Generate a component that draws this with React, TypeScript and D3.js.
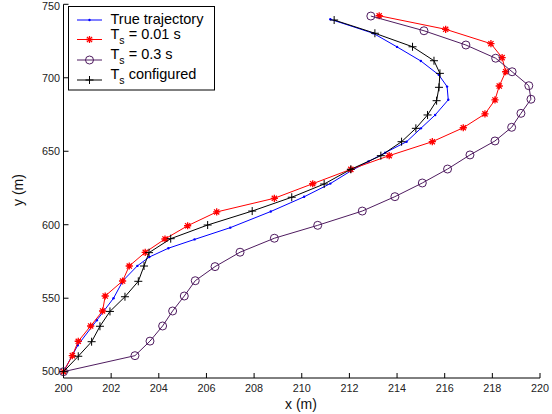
import React from 'react';
import * as d3 from 'd3';

type Pt = [number, number];

// true trajectory (blue, dots)
const trueTraj: Pt[] = [
  [200, 500], [200.6, 518], [201.4, 535], [202.1, 550], [202.5, 562], [203.1, 572],
  [203.6, 578], [204.4, 584], [205.5, 590], [207.0, 598], [208.7, 609], [210.1, 619],
  [211.2, 628], [212.1, 637], [212.8, 643], [213.5, 649], [214.4, 656.5], [215.0, 665.6],
  [215.6, 674.7], [216.15, 685], [216.1, 694], [215.75, 702], [215.0, 711.4],
  [214.0, 721], [213.0, 730.3], [211.2, 739.8],
];

// Ts = 0.01 s (red stars)
const ts001: Pt[] = [
  [200, 500], [200.37, 510.9], [200.62, 520.7], [201.14, 531.1], [201.64, 541.3],
  [201.75, 551.5], [202.48, 561.7], [202.76, 571.9], [203.43, 581.2], [204.26, 590.3],
  [205.21, 599.3], [206.43, 608.7], [208.85, 618], [210.46, 627.9], [212.06, 637.7],
  [213.67, 647], [215.48, 656.5], [216.78, 666], [217.69, 675.4], [218.11, 684.9],
  [218.29, 694.4], [218.56, 704.1], [218.41, 713.7], [217.94, 723.2], [216.04, 733],
  [213.25, 742.2],
];

// Ts = 0.3 s (purple circles)
const ts03: Pt[] = [
  [200, 500], [203.0, 510.9], [203.63, 520.8], [204.16, 531.1], [204.58, 541.3],
  [205.07, 551.5], [205.53, 561.9], [206.36, 571.5], [207.41, 581.3], [208.85, 590.8],
  [210.67, 599.6], [212.54, 609.3], [213.91, 619.1], [215.06, 628.4], [216.12, 637.9],
  [217.06, 647.5], [218.11, 657], [218.81, 666.3], [219.2, 675.8], [219.62, 685.4],
  [219.53, 694.6], [218.83, 704.1], [218.14, 713.3], [216.89, 722.3], [215.13, 732],
  [212.9, 742],
];

// Ts configured (black plus)
const tsConf: Pt[] = [
  [200, 500], [200.62, 510.5], [201.18, 520.4], [201.53, 530.9], [201.95, 541],
  [202.58, 551], [203.14, 561.5], [203.38, 571.9], [203.59, 581], [204.5, 590.5],
  [206.05, 599.8], [207.92, 609.3], [209.58, 618.7], [210.94, 627.7], [212.06, 637.7],
  [213.32, 647], [214.19, 656.5], [214.79, 665.6], [215.28, 674.7], [215.66, 684.4],
  [215.76, 693.5], [215.8, 703], [215.55, 711.6], [214.65, 721.1], [213.07, 730.3],
  [211.36, 739.3],
];

const xTicks = [200, 202, 204, 206, 208, 210, 212, 214, 216, 218, 220];
const yTicks = [500, 550, 600, 650, 700, 750];

const BLUE = '#0000ff';
const RED = '#ff0000';
const PURPLE = '#4f1c60';
const FONT = 'Liberation Sans, Arial, Helvetica, sans-serif';

const x = d3.scaleLinear().domain([200, 220]).range([63.5, 540]);
const y = d3.scaleLinear().domain([750, 495.7]).range([4.3, 378]);

const line = d3.line<Pt>().x(d => x(d[0])).y(d => y(d[1]));

const starPath = (r: number) => {
  const a = r * 0.72;
  return `M${-r},0L${r},0M0,${-r}L0,${r}M${-a},${-a}L${a},${a}M${-a},${a}L${a},${-a}`;
};
const plusPath = (r: number) => `M${-r},0L${r},0M0,${-r}L0,${r}`;

const Marker = ({ kind, color }: { kind: string; color: string }) => {
  if (kind === 'dot') return <circle r={1.2} fill={color} />;
  if (kind === 'circle') return <circle r={4} fill="none" stroke={color} strokeWidth={1} />;
  if (kind === 'star') return <path d={starPath(3.6)} stroke={color} strokeWidth={1.3} fill="none" />;
  return <path d={plusPath(4)} stroke={color} strokeWidth={1} fill="none" />;
};

const series = [
  { data: trueTraj, color: BLUE, kind: 'dot' },
  { data: ts001, color: RED, kind: 'star' },
  { data: ts03, color: PURPLE, kind: 'circle' },
  { data: tsConf, color: '#000000', kind: 'plus' },
];

export default function App() {
  const legendRows = [
    { color: BLUE, kind: 'dot', label: null, text: 'True trajectory', ly: 20, ty: 24 },
    { color: RED, kind: 'star', label: ' = 0.01 s', ly: 39.5, ty: 38.5 },
    { color: PURPLE, kind: 'circle', label: ' = 0.3 s', ly: 60, ty: 59 },
    { color: '#000000', kind: 'plus', label: ' configured', ly: 80, ty: 78.5 },
  ];
  return (
    <svg width={552} height={414} style={{ position: 'absolute', left: 0, top: 0, background: '#fff' }}
      fontFamily={FONT}>
      <rect width={552} height={414} fill="#fff" />
      {/* axes */}
      <line x1={63.5} x2={63.5} y1={4.3} y2={378} stroke="#000" />
      <line x1={63.5} x2={540} y1={378} y2={378} stroke="#000" />
      {xTicks.map(t => (
        <g key={'x' + t}>
          <line x1={x(t)} x2={x(t)} y1={378} y2={373} stroke="#000" />
          <text x={x(t)} y={392} textAnchor="middle" fontSize={10.8} fill="#222">{t}</text>
        </g>
      ))}
      {yTicks.map(t => (
        <g key={'y' + t}>
          <line x1={63.5} x2={68.5} y1={y(t)} y2={y(t)} stroke="#000" />
          <text x={60} y={Math.max(y(t) + 3.8, 9.5)} textAnchor="end" fontSize={10.8} fill="#222">{t}</text>
        </g>
      ))}
      <text x={301} y={409} textAnchor="middle" fontSize={14} fill="#111">x (m)</text>
      <text transform="translate(23,190) rotate(-90)" textAnchor="middle" fontSize={14} fill="#111">y (m)</text>

      {/* series */}
      {series.map((s, i) => (
        <g key={i}>
          <path d={line(s.data) ?? ''} fill="none" stroke={s.color} strokeWidth={1} />
          {s.data.map((d, j) => (
            <g key={j} transform={`translate(${x(d[0])},${y(d[1])})`}>
              <Marker kind={s.kind} color={s.color} />
            </g>
          ))}
        </g>
      ))}

      {/* legend */}
      <rect x={68.5} y={6.5} width={146} height={83.5} fill="#fff" stroke="#000" strokeWidth={1} />
      {legendRows.map((r, i) => (
        <g key={i}>
          <line x1={77} x2={102} y1={r.ly} y2={r.ly} stroke={r.color} strokeWidth={1} />
          <g transform={`translate(89.5,${r.ly})`}>
            <Marker kind={r.kind} color={r.color} />
          </g>
          {r.label === null ? (
            <text x={110.5} y={r.ty} fontSize={14.5} fill="#000">{r.text}</text>
          ) : (
            <text x={110.5} y={r.ty} fontSize={14.5} fill="#000">
              T<tspan fontSize={10.5} dy={5}>s</tspan><tspan dy={-5}>{r.label}</tspan>
            </text>
          )}
        </g>
      ))}
    </svg>
  );
}
